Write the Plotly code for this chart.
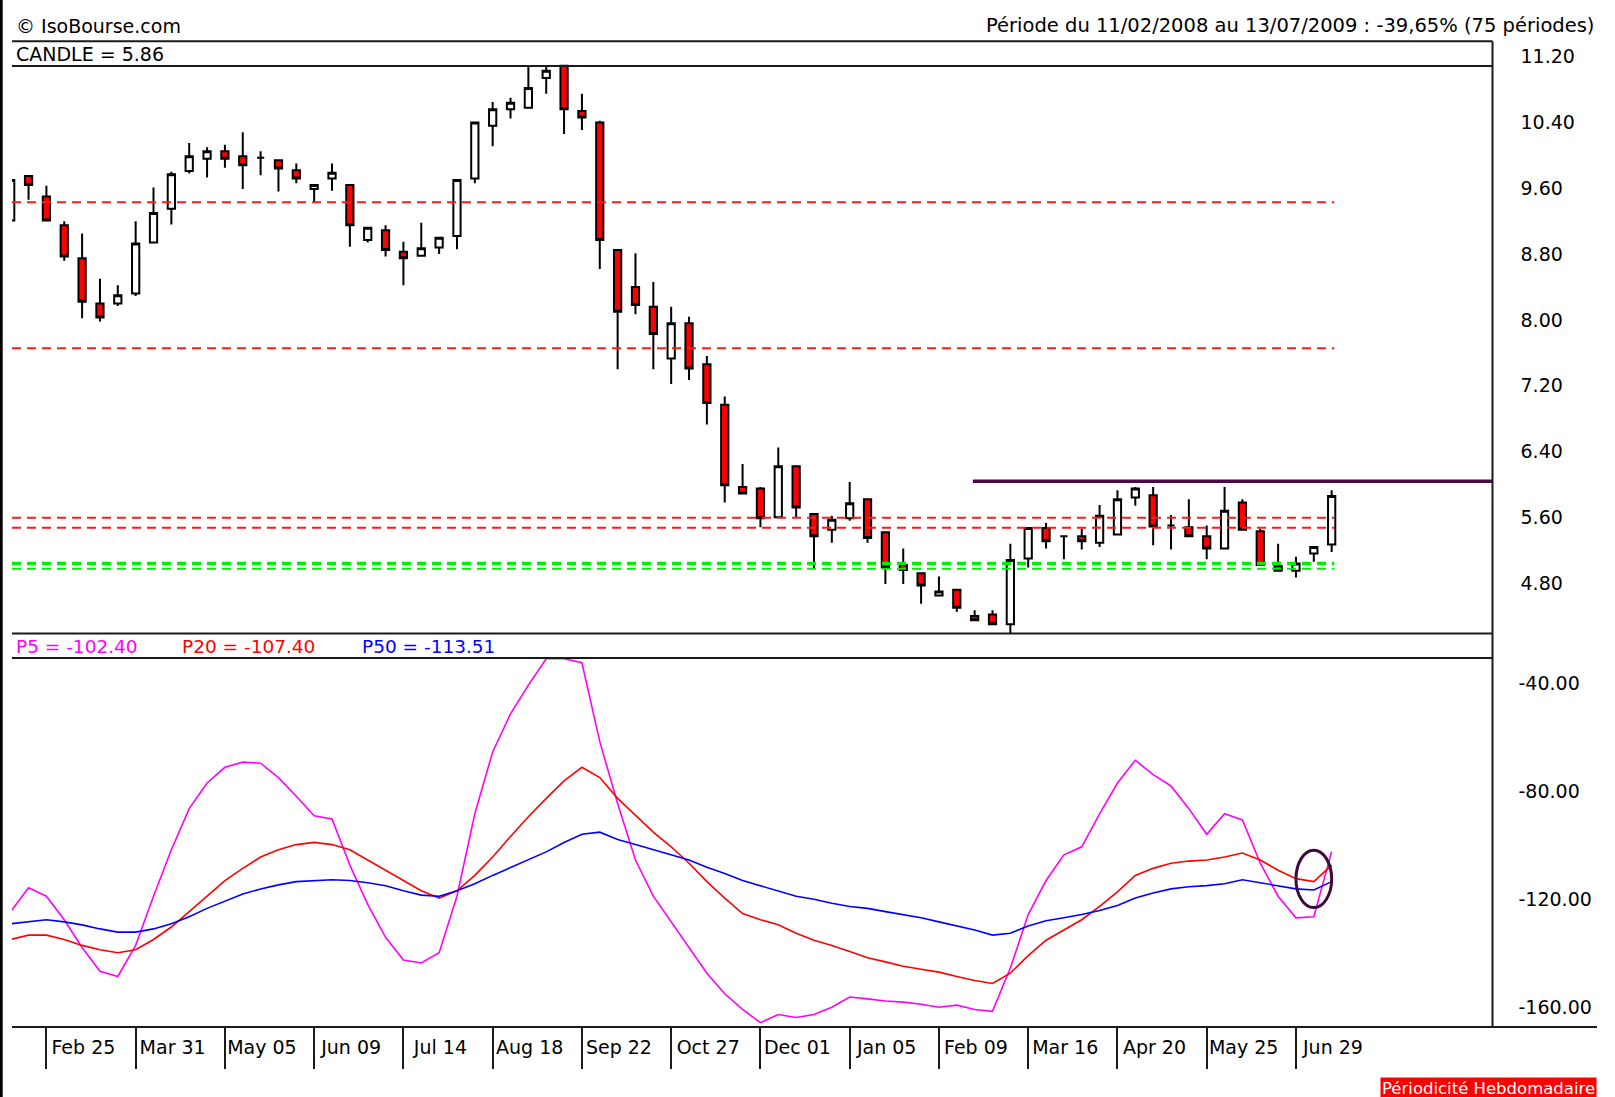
import plotly.graph_objects as go

# ---------------- data ----------------
idx = list(range(75))  # weekly periods, 11/02/2008 .. 13/07/2009

opens = [9.21, 9.75, 9.50, 9.15, 8.75, 8.20, 8.20, 8.32, 8.94, 9.35,
         9.81, 9.96, 10.05, 9.99, 9.97, 9.94, 9.82, 9.59, 9.72, 9.64,
         8.97, 9.09, 8.83, 8.78, 8.88, 9.02, 9.72, 10.36, 10.56, 10.58,
         10.94, 11.09, 10.54, 10.40, 8.85, 8.40, 8.16, 7.53, 7.96, 7.46,
         6.97, 5.97, 5.95, 5.60, 6.22, 5.64, 5.45, 5.59, 5.82, 5.42,
         5.02, 4.92, 4.65, 4.72, 4.40, 4.42, 4.30, 5.10, 5.47, 5.37,
         5.37, 5.29, 5.39, 5.84, 5.87, 5.50, 5.48, 5.37, 5.22, 5.78,
         5.43, 5.01, 4.95, 5.16, 5.27]
highs = [9.92, 9.75, 9.63, 9.20, 9.05, 8.50, 8.42, 9.20, 9.61, 9.80,
         10.15, 10.10, 10.13, 10.28, 10.05, 9.95, 9.90, 9.65, 9.90, 9.65,
         9.13, 9.15, 8.95, 9.18, 9.00, 9.70, 10.40, 10.65, 10.70, 11.10,
         11.10, 11.10, 10.75, 10.42, 8.85, 8.81, 8.46, 8.16, 8.04, 7.56,
         7.07, 6.25, 5.97, 6.45, 6.22, 5.64, 5.62, 6.03, 5.82, 5.42,
         5.22, 4.93, 4.88, 4.73, 4.47, 4.47, 5.28, 5.47, 5.53, 5.37,
         5.46, 5.75, 5.93, 5.97, 5.97, 5.63, 5.82, 5.50, 5.97, 5.82,
         5.46, 5.28, 5.12, 5.24, 5.93]
lows = [9.15, 9.46, 9.21, 8.72, 8.02, 7.98, 8.17, 8.29, 8.93, 9.16,
        9.78, 9.73, 9.85, 9.59, 9.76, 9.56, 9.66, 9.43, 9.57, 8.89,
        8.94, 8.77, 8.42, 8.77, 8.80, 8.86, 9.66, 10.11, 10.45, 10.58,
        10.75, 10.26, 10.31, 8.62, 7.40, 8.07, 7.40, 7.22, 7.27, 6.73,
        5.78, 5.89, 5.48, 5.60, 5.60, 4.98, 5.29, 5.56, 5.29, 4.79,
        4.79, 4.55, 4.64, 4.45, 4.35, 4.30, 4.18, 4.99, 5.22, 5.09,
        5.21, 5.24, 5.38, 5.74, 5.26, 5.21, 5.36, 5.09, 5.21, 5.44,
        5.02, 4.94, 4.87, 5.06, 5.18]
closes = [9.70, 9.64, 9.21, 8.77, 8.22, 8.03, 8.30, 8.93, 9.30, 9.77,
          9.99, 10.05, 9.96, 9.88, 9.97, 9.84, 9.72, 9.64, 9.79, 9.15,
          9.12, 8.85, 8.75, 8.87, 9.00, 9.70, 10.40, 10.56, 10.64, 10.82,
          11.03, 10.56, 10.46, 8.97, 8.10, 8.18, 7.83, 7.96, 7.41, 6.99,
          5.99, 5.89, 5.59, 6.22, 5.72, 5.37, 5.57, 5.77, 5.35, 4.99,
          4.96, 4.77, 4.70, 4.50, 4.35, 4.30, 5.08, 5.47, 5.31, 5.37,
          5.31, 5.62, 5.82, 5.95, 5.49, 5.50, 5.37, 5.22, 5.68, 5.45,
          5.02, 4.95, 5.04, 5.24, 5.86]

p5 = [-124.6, -115.8, -118.9, -127.6, -137.9, -146.7, -148.6, -137.1, -118.9, -101.7,
      -86.5, -77.0, -71.2, -69.3, -69.7, -75.0, -81.9, -89.1, -90.3, -107.4,
      -121.9, -134.1, -142.5, -143.6, -139.8, -118.9, -88.4, -65.5, -51.4, -40.8,
      -31.0, -31.0, -32.5, -61.7, -84.6, -105.5, -118.9, -128.4, -137.9, -147.4,
      -155.0, -160.8, -165.7, -162.7, -163.8, -162.7, -160.0, -156.2, -156.9, -157.7,
      -158.1, -158.9, -160.0, -159.2, -160.8, -161.5, -145.5, -125.7, -113.1, -103.6,
      -100.6, -88.4, -77.0, -68.6, -73.9, -78.1, -86.5, -96.0, -88.4, -90.7,
      -106.7, -118.9, -126.9, -126.5, -102.40]
p20 = [-134.9, -133.3, -133.3, -134.9, -137.1, -138.7, -139.8, -138.7, -134.9, -130.3,
       -124.6, -118.9, -113.1, -108.6, -104.4, -101.7, -99.8, -99.0, -99.8, -101.7,
       -105.5, -109.3, -113.1, -116.9, -119.6, -116.9, -111.2, -104.4, -96.8, -89.5,
       -82.7, -76.2, -71.2, -75.0, -82.7, -89.1, -95.2, -100.6, -106.7, -113.5,
       -119.6, -125.3, -127.6, -129.5, -132.6, -135.2, -137.1, -139.4, -141.7, -143.2,
       -144.8, -145.9, -147.0, -148.6, -150.1, -151.2, -147.4, -140.9, -135.2, -131.4,
       -127.6, -122.7, -117.3, -111.2, -108.6, -106.7, -105.9, -105.5, -104.4, -102.9,
       -105.5, -109.3, -112.4, -113.5, -107.40]
p50 = [-129.1, -128.4, -127.6, -128.4, -129.5, -131.0, -132.2, -132.2, -131.0, -129.1,
       -126.5, -123.4, -120.8, -118.1, -116.2, -114.7, -113.5, -113.1, -112.8, -113.1,
       -113.9, -115.0, -116.9, -118.5, -118.9, -116.9, -114.3, -111.2, -108.2, -105.5,
       -102.5, -99.0, -96.0, -95.2, -97.9, -99.8, -101.7, -103.6, -105.5, -108.2,
       -110.5, -113.1, -115.0, -116.9, -118.9, -120.0, -121.5, -122.7, -123.4, -124.6,
       -125.7, -126.9, -128.4, -129.9, -131.4, -133.3, -132.6, -129.9, -128.0, -126.9,
       -125.7, -124.2, -122.3, -119.6, -117.7, -116.2, -115.4, -115.0, -114.3, -112.8,
       -113.9, -115.0, -116.2, -116.6, -113.51]

tick_idx = [2, 7, 12, 17, 22, 27, 32, 37, 42, 47, 52, 57, 62, 67, 72]
tick_labels = ["Feb 25", "Mar 31", "May 05", "Jun 09", "Jul 14", "Aug 18", "Sep 22",
               "Oct 27", "Dec 01", "Jan 05", "Feb 09", "Mar 16", "Apr 20", "May 25", "Jun 29"]

price_ticks = [4.80, 5.60, 6.40, 7.20, 8.00, 8.80, 9.60, 10.40, 11.20]
ind_ticks = [-40, -80, -120, -160]
ind_tick_labels = ["-40.00", "-80.00", "-120.00", "-160.00"]

red_levels = [9.43, 7.655, 5.595, 5.475]
green_levels = [5.04, 4.975]
green_widths = [3.5, 2]
resistance_level = 6.04
resistance_start = 53.9
levels_end = 74.15
ellipse_x = [72.0, 74.0]
ellipse_y = [-123.1, -101.9]

# ---------------- layout helpers ----------------
W, H = 1615, 1097
def fx(p): return p / W
def fy(p): return 1 - p / H

X_RANGE = [0.073, 83.01]
FONT = "DejaVu Sans"

fig = go.Figure()

fig.add_trace(go.Candlestick(
    x=idx, open=opens, high=highs, low=lows, close=closes,
    increasing=dict(line=dict(color="black", width=2), fillcolor="white"),
    decreasing=dict(line=dict(color="black", width=2), fillcolor="#ff0000"),
    whiskerwidth=0, showlegend=False, xaxis="x", yaxis="y"))

for vals, col in [(p5, "#ff00ff"), (p20, "#ff0000"), (p50, "#0000ff")]:
    fig.add_trace(go.Scatter(x=idx, y=vals, mode="lines",
                             line=dict(color=col, width=1.6),
                             showlegend=False, xaxis="x2", yaxis="y2"))

shapes = []
for lv in red_levels:
    shapes.append(dict(type="line", xref="x", yref="y", x0=X_RANGE[0], x1=levels_end,
                       y0=lv, y1=lv, line=dict(color="#ff1a1a", width=2, dash="9px,6px"),
                       layer="above"))
for lv, wd in zip(green_levels, green_widths):
    shapes.append(dict(type="line", xref="x", yref="y", x0=X_RANGE[0], x1=levels_end,
                       y0=lv, y1=lv, line=dict(color="#00ee00", width=wd, dash="9px,6px"),
                       layer="above"))
shapes.append(dict(type="line", xref="x", yref="y", x0=resistance_start, x1=X_RANGE[1],
                   y0=resistance_level, y1=resistance_level,
                   line=dict(color="#4a0a48", width=3.5), layer="above"))
shapes.append(dict(type="circle", xref="x2", yref="y2", x0=ellipse_x[0], x1=ellipse_x[1],
                   y0=ellipse_y[0], y1=ellipse_y[1],
                   line=dict(color="#3d0a3d", width=3), layer="above"))

# frame lines
LC = "#1a1a1a"
for yy, x1 in [(41.2, 1492.5), (66, 1492.5), (633.5, 1492.5), (658, 1492.5), (1027, 1597)]:
    shapes.append(dict(type="line", xref="paper", yref="paper", x0=fx(12), x1=fx(x1),
                       y0=fy(yy), y1=fy(yy), line=dict(color=LC, width=2)))
shapes.append(dict(type="line", xref="paper", yref="paper", x0=fx(1492.5), x1=fx(1492.5),
                   y0=fy(41.2), y1=fy(1027), line=dict(color=LC, width=2)))
shapes.append(dict(type="line", xref="paper", yref="paper", x0=fx(1.2), x1=fx(1.2),
                   y0=0, y1=1, line=dict(color="black", width=3)))

annotations = [
    dict(text="© IsoBourse.com", x=fx(14), y=fy(26), xanchor="left", yanchor="middle",
         font=dict(family=FONT, size=19, color="black")),
    dict(text="Période du 11/02/2008 au 13/07/2009 : -39,65% (75 périodes)",
         x=fx(1596), y=fy(26), xanchor="right", yanchor="middle",
         font=dict(family=FONT, size=19.5, color="black")),
    dict(text="CANDLE = 5.86", x=fx(13.5), y=fy(54), xanchor="left", yanchor="middle",
         font=dict(family=FONT, size=19, color="black")),
    dict(text="P5 = -102.40", x=fx(13.5), y=fy(646.5), xanchor="left", yanchor="middle",
         font=dict(family=FONT, size=18.5, color="#ff00ff")),
    dict(text="P20 = -107.40", x=fx(180), y=fy(646.5), xanchor="left", yanchor="middle",
         font=dict(family=FONT, size=18.5, color="#ff0000")),
    dict(text="P50 = -113.51", x=fx(359.5), y=fy(646.5), xanchor="left", yanchor="middle",
         font=dict(family=FONT, size=18.5, color="#0000ff")),
    dict(text="Périodicité Hebdomadaire", x=fx(1597), y=fy(1077), xanchor="right",
         yanchor="top", bgcolor="#ff0000", borderpad=1,
         font=dict(family=FONT, size=16.5, color="white")),
]
for a in annotations:
    a.update(xref="paper", yref="paper", showarrow=False)

fig.update_layout(
    width=W, height=H, autosize=False,
    margin=dict(l=0, r=0, t=0, b=0, pad=0),
    paper_bgcolor="white", plot_bgcolor="white",
    boxgap=0.42,
    font=dict(family=FONT, size=19, color="black"),
    xaxis=dict(domain=[fx(12), fx(1492.5)], range=X_RANGE, anchor="y",
               showticklabels=False, ticks="", showgrid=False, zeroline=False,
               showline=False, rangeslider=dict(visible=False), fixedrange=True),
    yaxis=dict(domain=[fy(633.5), fy(45)], range=[4.188, 11.342], anchor="x",
               side="right", tickvals=price_ticks, tickformat=".2f", ticks="",
               showgrid=False, zeroline=False, showline=False,
               ticklabelstandoff=27, tickfont=dict(family=FONT, size=19, color="black")),
    xaxis2=dict(domain=[fx(12), fx(1492.5)], range=X_RANGE, anchor="y2",
                tickvals=tick_idx, ticktext=tick_labels, ticks="outside", ticklen=41,
                tickwidth=2, tickcolor=LC, showgrid=False, zeroline=False, showline=False,
                ticklabelshift=37, ticklabelstandoff=-38,
                tickfont=dict(family=FONT, size=19, color="black")),
    yaxis2=dict(domain=[fy(1027), fy(658)], range=[-167.3, -30.75], anchor="x2",
                side="right", tickvals=ind_ticks, ticktext=ind_tick_labels, ticks="",
                showgrid=False, zeroline=False, showline=False,
                ticklabelstandoff=25, tickfont=dict(family=FONT, size=19, color="black")),
    shapes=shapes, annotations=annotations,
)

fig.write_html("out.html", config={"displayModeBar": False},
               post_script="document.body.style.margin='0';document.body.style.overflow='hidden';")
